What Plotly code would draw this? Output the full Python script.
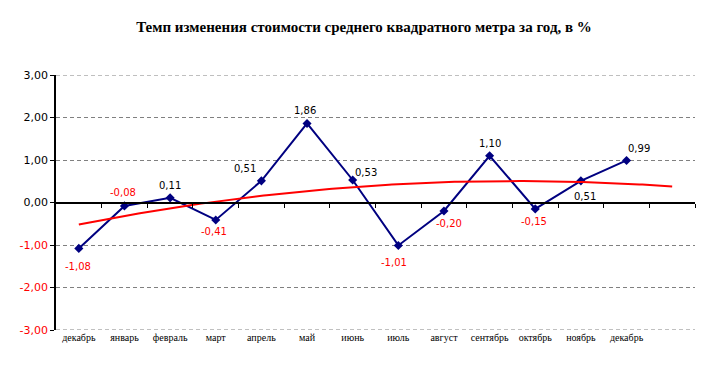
import numpy as np
import plotly.graph_objects as go

months = ["декабрь", "январь", "февраль", "март", "апрель", "май", "июнь",
          "июль", "август", "сентябрь", "октябрь", "ноябрь", "декабрь"]
values = [-1.08, -0.08, 0.11, -0.41, 0.51, 1.86, 0.53, -1.01, -0.20, 1.10, -0.15, 0.51, 0.99]
y_ticks = [-3, -2, -1, 0, 1, 2, 3]

# label offsets (style): (xshift, yshift)
label_offsets = [(-1, -18), (-1, 13), (0, 12), (-2, -12), (-16, 12), (-2, 13), (13, 7),
                 (-4, -17), (5, -12), (0, 12), (-1, -13), (4, -16), (12, 12)]

x_idx = np.arange(len(values))

# quadratic trendline (Excel-style polynomial, forecast one period forward)
coef = np.polyfit(x_idx, values, 2)
tx = np.linspace(0, len(values), 200)
ty = np.polyval(coef, tx)

fig = go.Figure()
fig.add_trace(go.Scatter(x=tx, y=ty, mode="lines", xaxis="x2",
                         line=dict(color="#FF0000", width=2), hoverinfo="skip",
                         showlegend=False))
fig.add_trace(go.Scatter(x=x_idx, y=values, mode="lines+markers",
                         line=dict(color="#000080", width=2),
                         marker=dict(symbol="diamond", size=7, color="#000080"),
                         showlegend=False))

annotations = []
for i, (v, (dx, dy)) in enumerate(zip(values, label_offsets)):
    annotations.append(dict(x=i, y=v, xref="x", yref="y",
                            text=f"{v:.2f}".replace(".", ","),
                            showarrow=False, xshift=dx, yshift=dy,
                            font=dict(family="DejaVu Sans", size=10,
                                      color="#FF0000" if v < 0 else "#000000")))

ytext = []
for t in y_ticks:
    s = f"{t:.2f}".replace(".", ",")
    if t < 0:
        ytext.append(f"<span style='color:#FF0000'>{s}</span>")
    else:
        ytext.append(s)

xrange = [-0.5, len(values) + 0.5]
shapes = [dict(type="line", xref="paper", yref="y", x0=0, x1=1, y0=yv, y1=yv,
               line=dict(color="#808080", width=1, dash="4px,3px"), layer="below")
          for yv in (y_ticks[0], y_ticks[-1])]

fig.update_layout(
    width=712, height=383,
    margin=dict(l=45, r=25, t=67, b=61),
    paper_bgcolor="white", plot_bgcolor="white",
    title=dict(text="<b>Темп изменения стоимости среднего квадратного метра за год, в %</b>",
               x=0.5, xanchor="center", y=0.95, yanchor="middle",
               font=dict(family="Liberation Serif", size=15, color="black")),
    xaxis=dict(range=xrange, tickvals=list(x_idx), ticktext=months,
               showgrid=False, zeroline=False, showline=False, ticks="",
               tickfont=dict(family="Liberation Serif", size=10, color="black")),
    xaxis2=dict(range=xrange, overlaying="x", anchor="free", position=0.5,
                side="bottom", showline=True, linecolor="black", linewidth=2,
                tickvals=[i + 0.5 for i in range(len(values) + 1)],
                ticks="outside", ticklen=4, tickcolor="black", tickwidth=1,
                showticklabels=False, showgrid=False, zeroline=False),
    yaxis=dict(range=[-3, 3], tickvals=y_ticks, ticktext=ytext,
               showgrid=True, gridcolor="#808080", griddash="4px,3px", gridwidth=1,
               zeroline=False, showline=True, linecolor="black", linewidth=1.5,
               ticks="outside", ticklen=4, tickcolor="black",
               tickfont=dict(family="DejaVu Sans", size=11, color="black")),
    shapes=shapes,
    annotations=annotations,
)

fig.write_html("out.html")
